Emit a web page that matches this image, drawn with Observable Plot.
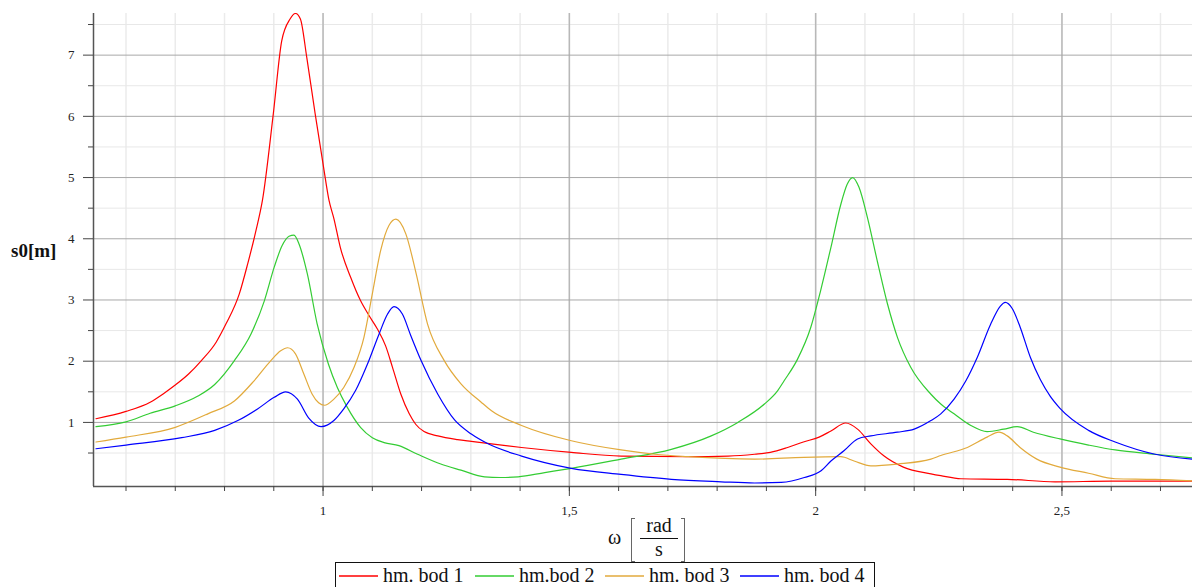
<!DOCTYPE html>
<html>
<head>
<meta charset="utf-8">
<script src="https://cdn.jsdelivr.net/npm/d3@7"></script>
<script src="https://cdn.jsdelivr.net/npm/@observablehq/plot@0.6"></script>
<style>
  html, body { margin: 0; padding: 0; background: #fff; }
  #wrap { position: relative; width: 1192px; height: 587px; overflow: hidden; font-family: "Liberation Serif", "Times New Roman", serif; color: #111; }
  #chart svg { display: block; }
  .abs { position: absolute; white-space: nowrap; }
</style>
</head>
<body>
<div id="wrap">
  <div id="chart"></div>
</div>
<script>
// ---- data (ω [rad/s], s0 [m]) ----
const seriesNames = ["hm. bod 1", "hm.bod 2", "hm. bod 3", "hm. bod 4"];
const seriesColors = ["#ff0000", "#33cc33", "#e2aa3c", "#0000ff"];

const bod1 = [[0.539,1.06],[0.6,1.18],[0.649,1.33],[0.676,1.47],[0.70,1.61],[0.727,1.79],[0.753,2.01],[0.783,2.31],[0.803,2.61],[0.83,3.10],[0.847,3.59],[0.864,4.14],[0.877,4.63],[0.899,6.04],[0.916,7.23],[0.933,7.59],[0.944,7.68],[0.954,7.59],[0.967,6.96],[0.984,6.04],[1.001,5.17],[1.012,4.63],[1.022,4.33],[1.035,3.86],[1.056,3.37],[1.076,2.99],[1.093,2.75],[1.110,2.53],[1.127,2.25],[1.141,1.90],[1.158,1.46],[1.175,1.14],[1.188,0.97],[1.205,0.85],[1.233,0.78],[1.273,0.72],[1.301,0.69],[1.35,0.64],[1.403,0.59],[1.504,0.51],[1.605,0.45],[1.741,0.44],[1.822,0.45],[1.876,0.48],[1.908,0.51],[1.943,0.59],[1.975,0.68],[2.007,0.76],[2.031,0.86],[2.061,0.99],[2.085,0.89],[2.112,0.65],[2.139,0.45],[2.178,0.27],[2.234,0.16],[2.254,0.13],[2.295,0.08],[2.389,0.07],[2.486,0.03],[2.6,0.04],[2.715,0.04],[2.765,0.04]];

const bod2 = [[0.539,0.93],[0.6,1.01],[0.649,1.15],[0.70,1.27],[0.746,1.43],[0.78,1.62],[0.82,2.01],[0.854,2.45],[0.881,2.99],[0.901,3.54],[0.917,3.89],[0.931,4.04],[0.941,4.06],[0.951,3.92],[0.968,3.43],[0.988,2.61],[1.011,1.95],[1.029,1.57],[1.049,1.25],[1.076,0.92],[1.10,0.75],[1.124,0.67],[1.154,0.62],[1.192,0.48],[1.239,0.32],[1.28,0.22],[1.328,0.11],[1.36,0.10],[1.396,0.11],[1.45,0.18],[1.504,0.25],[1.605,0.40],[1.707,0.56],[1.788,0.78],[1.842,1.0],[1.896,1.30],[1.923,1.52],[1.936,1.68],[1.963,2.03],[1.99,2.55],[2.01,3.15],[2.031,3.86],[2.051,4.56],[2.064,4.89],[2.075,5.0],[2.088,4.84],[2.105,4.35],[2.125,3.64],[2.146,2.93],[2.166,2.39],[2.193,1.90],[2.234,1.46],[2.254,1.30],[2.281,1.14],[2.315,0.95],[2.348,0.85],[2.382,0.89],[2.409,0.93],[2.442,0.84],[2.496,0.73],[2.554,0.63],[2.608,0.55],[2.689,0.48],[2.765,0.42]];

const bod3 = [[0.539,0.68],[0.6,0.76],[0.70,0.92],[0.766,1.14],[0.82,1.35],[0.86,1.68],[0.894,2.01],[0.914,2.17],[0.928,2.22],[0.944,2.12],[0.961,1.79],[0.978,1.46],[0.991,1.32],[1.003,1.28],[1.022,1.38],[1.042,1.57],[1.063,1.90],[1.083,2.39],[1.10,3.10],[1.117,3.81],[1.134,4.22],[1.148,4.32],[1.168,4.08],[1.189,3.43],[1.212,2.61],[1.246,2.01],[1.28,1.63],[1.321,1.33],[1.342,1.19],[1.403,0.95],[1.504,0.70],[1.605,0.55],[1.673,0.48],[1.741,0.44],[1.876,0.40],[1.976,0.43],[2.051,0.44],[2.078,0.37],[2.112,0.29],[2.166,0.32],[2.234,0.40],[2.254,0.46],[2.308,0.59],[2.348,0.76],[2.372,0.84],[2.389,0.78],[2.415,0.59],[2.449,0.40],[2.496,0.27],[2.554,0.17],[2.608,0.08],[2.689,0.07],[2.765,0.045]];

const bod4 = [[0.539,0.57],[0.6,0.63],[0.713,0.75],[0.78,0.87],[0.827,1.03],[0.867,1.22],[0.901,1.41],[0.924,1.50],[0.948,1.38],[0.971,1.07],[0.996,0.93],[1.022,1.03],[1.042,1.22],[1.066,1.52],[1.09,1.95],[1.114,2.45],[1.131,2.77],[1.144,2.89],[1.161,2.77],[1.178,2.42],[1.199,2.01],[1.233,1.46],[1.267,1.04],[1.301,0.81],[1.335,0.65],[1.403,0.45],[1.504,0.25],[1.605,0.15],[1.707,0.07],[1.808,0.03],[1.876,0.01],[1.93,0.02],[1.977,0.10],[2.011,0.21],[2.031,0.37],[2.058,0.54],[2.085,0.73],[2.112,0.78],[2.166,0.84],[2.2,0.89],[2.234,1.03],[2.254,1.14],[2.281,1.38],[2.305,1.68],[2.328,2.06],[2.355,2.60],[2.375,2.90],[2.385,2.96],[2.399,2.86],[2.415,2.56],[2.436,2.06],[2.456,1.70],[2.476,1.43],[2.496,1.23],[2.554,0.87],[2.608,0.68],[2.689,0.48],[2.765,0.40]];

const xDomain = [0.534, 2.765];
const yDomain = [-0.047, 7.68];
const xMajorTicks = [1, 1.5, 2, 2.5];
const xMinorTicks = [0.6,0.7,0.8,0.9,1.0,1.1,1.2,1.3,1.4,1.5,1.6,1.7,1.8,1.9,2.0,2.1,2.2,2.3,2.4,2.5,2.6,2.7];
const yMajorTicks = [1, 2, 3, 4, 5, 6, 7];
const yMinorTicks = [0.5, 1.5, 2.5, 3.5, 4.5, 5.5, 6.5, 7.5];
const xLabel = "ω";
const xUnitNum = "rad";
const xUnitDen = "s";
const yLabel = "s0[m]";

const series = [bod1, bod2, bod3, bod4];
const fmt = d => String(d).replace(".", ",");

const plot = Plot.plot({
  width: 1192,
  height: 515,
  marginLeft: 93,
  marginRight: 0,
  marginTop: 13,
  marginBottom: 29,
  x: {domain: xDomain},
  y: {domain: yDomain},
  style: {fontFamily: "'Liberation Serif', 'Times New Roman', serif", fontSize: "13px", color: "#222", background: "#fff", overflow: "visible"},
  marks: [
    Plot.gridX(xMinorTicks, {stroke: "#ebebeb", strokeOpacity: 1, strokeWidth: 1.5}),
    Plot.gridY(yMinorTicks, {stroke: "#e8e8e8", strokeOpacity: 1, strokeWidth: 1}),
    Plot.gridX(xMajorTicks, {stroke: "#b8b8b8", strokeOpacity: 1, strokeWidth: 1.5}),
    Plot.gridY(yMajorTicks, {stroke: "#a8a8a8", strokeOpacity: 1, strokeWidth: 1}),
    ...series.map((s, i) => Plot.line(s, {
      x: d => d[0], y: d => d[1],
      stroke: seriesColors[i], strokeWidth: 1.2, curve: "monotone-x", clip: true
    })),
    Plot.ruleX([xDomain[0]], {stroke: "#555", strokeWidth: 1.5}),
    Plot.ruleY([yDomain[0]], {stroke: "#555", strokeWidth: 1.5}),
    Plot.axisY(yMajorTicks, {tickSize: 10, tickPadding: 9, tickFormat: d => String(d), label: null, stroke: "#444", fill: "#222"}),
    Plot.axisY(yMinorTicks, {tickSize: 5, tickFormat: () => "", label: null, stroke: "#444"}),
    Plot.axisX(xMajorTicks, {tickSize: 10, tickPadding: 9, tickFormat: fmt, label: null, stroke: "#444", fill: "#222"}),
    Plot.axisX(xMinorTicks, {tickSize: 5, tickFormat: () => "", label: null, stroke: "#444"})
  ]
});
document.getElementById("chart").appendChild(plot);

const wrap = document.getElementById("wrap");
function addEl(html, css) {
  const el = document.createElement("div");
  el.className = "abs";
  el.innerHTML = html;
  Object.assign(el.style, css);
  wrap.appendChild(el);
  return el;
}

// y axis title
addEl(yLabel, {left: "11px", top: "239px", fontSize: "19px", fontWeight: "bold", lineHeight: "24px"});

// x axis title: ω [rad / s]
addEl(xLabel, {left: "608px", top: "526px", fontSize: "20px", lineHeight: "22px"});
addEl("", {left: "631px", top: "518px", width: "4px", height: "44px", borderLeft: "1.5px solid #666", borderTop: "1px solid #666", borderBottom: "1px solid #666", boxSizing: "border-box"});
addEl("", {left: "681px", top: "518px", width: "4px", height: "44px", borderRight: "1.5px solid #666", borderTop: "1px solid #666", borderBottom: "1px solid #666", boxSizing: "border-box"});
addEl(xUnitNum, {left: "640px", width: "38px", textAlign: "center", top: "514px", fontSize: "20px", lineHeight: "22px"});
addEl("", {left: "640px", top: "538px", width: "38px", height: "0px", borderTop: "1px solid #111"});
addEl(xUnitDen, {left: "640px", width: "38px", textAlign: "center", top: "538px", fontSize: "20px", lineHeight: "22px"});

// legend box
addEl("", {left: "335px", top: "562px", width: "540px", height: "40px", border: "1px solid #111", boxSizing: "border-box", background: "#fff"});
const swatchLeft = [339, 475, 605, 740];
seriesNames.forEach((name, i) => {
  addEl("", {left: swatchLeft[i] + "px", top: "575px", width: "39px", height: "0px", borderTop: "2px solid " + seriesColors[i], opacity: "0.75"});
  addEl(name, {left: (swatchLeft[i] + 44) + "px", top: "564px", fontSize: "20px", lineHeight: "22px"});
});
</script>
</body>
</html>
